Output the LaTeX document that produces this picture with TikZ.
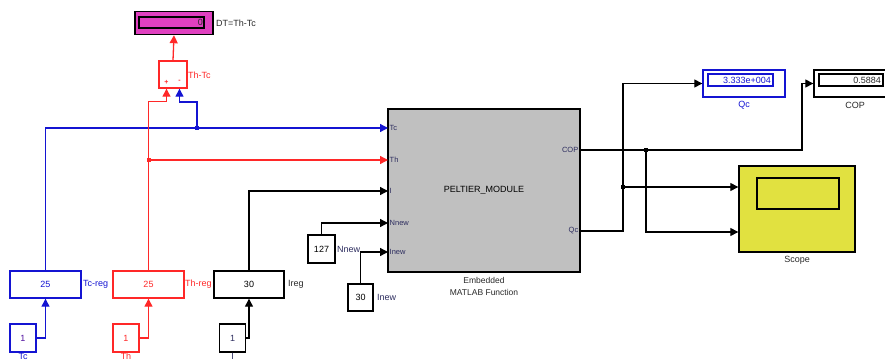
\documentclass[tikz,border=0pt]{standalone}
\usepackage{fontspec}
\setmainfont{Liberation Sans}
\usepackage{xcolor}
\usetikzlibrary{arrows.meta}

\definecolor{tcblue}{RGB}{20,20,210}
\definecolor{thred}{RGB}{255,40,40}
\definecolor{dtmag}{RGB}{224,64,192}
\definecolor{scopeyel}{RGB}{225,225,64}
\definecolor{blockgray}{RGB}{192,192,192}
\definecolor{portnavy}{RGB}{45,45,95}
\definecolor{darktext}{RGB}{40,40,40}

\begin{document}
\begin{tikzpicture}[x=1pt, y=-1pt,
		every node/.style={inner sep=0pt, font=\fontsize{9}{10}\selectfont},
		blk/.style={draw, line width=1.4pt, minimum width=71pt, minimum height=27pt},
		cst/.style={draw, line width=1.4pt, minimum width=26pt, minimum height=28pt},
		port/.style={font=\fontsize{7.5}{8}\selectfont, text=portnavy, inner sep=1.5pt},
		sig/.style={line width=1.3pt, -{Triangle[length=8pt,width=8pt]}}]
	\useasboundingbox (0,0) rectangle (885,361);
	
	% Display DT
	\node[draw, line width=1.4pt, fill=dtmag, minimum width=78pt, minimum height=23pt] (dt) at (174,23) {};
	\node[draw, line width=1.2pt, minimum width=65pt, minimum height=11pt] (dtin) at (171.5,22.5) {};
	\node[anchor=east, text=darktext] (dtv) at (203,22.5) {0};
	\node[anchor=west, text=darktext] (dtl) at (216,23) {DT=Th-Tc};
	
	% Sum Th-Tc
	\node[draw=thred, line width=1.4pt, minimum width=28pt, minimum height=27pt] (sum) at (173,74.5) {};
	\node[anchor=west, text=thred] (suml) at (188,75) {Th-Tc};
	\node[font=\fontsize{7}{7}\selectfont\bfseries, text=thred] (plus) at (166.5,82.5) {+};
	\node[font=\fontsize{7}{7}\selectfont\bfseries, text=thred] (minus) at (179.5,81.5) {-};
	\draw[sig, thred] (sum.north) -- (dt.south);
	
	% Embedded MATLAB function
	\node[draw, line width=2pt, fill=blockgray, minimum width=192pt, minimum height=163pt] (pm) at (484,190.5) {PELTIER\_MODULE};
	\node[align=center, font=\fontsize{8.5}{12}\selectfont, text=darktext] (pml) at (484,286) {Embedded\\MATLAB Function};
	\node[port, anchor=west] (pTc) at (388,128) {Tc};
	\node[port, anchor=west] (pTh) at (388,160) {Th};
	\node[port, anchor=west] (pI) at (388,191) {I};
	\node[port, anchor=west] (pN) at (388,223) {Nnew};
	\node[port, anchor=west] (pIn) at (388,252) {Inew};
	\node[port, anchor=east] (pCOP) at (580,150) {COP};
	\node[port, anchor=east] (pQc) at (580,231) {Qc};
	
	% Regulators
	\node[blk, draw=tcblue, text=tcblue] (tcreg) at (45.5,284.5) {25};
	\node[anchor=west, text=tcblue] (tcregl) at (83,284.5) {Tc-reg};
	\node[blk, draw=thred, text=thred] (threg) at (148.5,284.5) {25};
	\node[anchor=west, text=thred] (thregl) at (185,284.5) {Th-reg};
	\node[blk, minimum width=70pt] (ireg) at (249,284.5) {30};
	\node[anchor=west, text=darktext] (iregl) at (288,284.5) {Ireg};
	
	% Constants
	\node[cst, draw=tcblue, text=tcblue!75!red] (tcc) at (23,338) {1};
	\node[anchor=north, text=tcblue] (tccl) at (23,353) {Tc};
	\node[cst, draw=thred, text=thred] (thc) at (126,338) {1};
	\node[anchor=north, text=thred] (thcl) at (126,353) {Th};
	\node[cst, text=portnavy] (ic) at (232.5,338) {1};
	\node[anchor=north, text=portnavy] (icl) at (232.5,353) {I};
	\node[cst, minimum width=27pt] (nc) at (321.5,249) {127};
	\node[anchor=west, text=portnavy] (ncl) at (337,249) {Nnew};
	\node[cst, minimum width=25pt, minimum height=27pt] (inc) at (360.5,297.5) {30};
	\node[anchor=west, text=portnavy] (incl) at (377,297.5) {Inew};
	
	% Tc wires
	\coordinate (jTc) at (197,128);
	\draw[sig, tcblue] (tcc.east) -| (tcreg.south);
	\draw[sig, tcblue] (tcreg.north) |- (pTc.west);
	\draw[sig, tcblue] (jTc) -- ++(0,-26) -| (minus |- sum.south);
	\fill[tcblue] (jTc) ++(-2,-2) rectangle ++(4,4);
	
	% Th wires
	\coordinate (jTh) at (148.5,160);
	\draw[sig, thred] (thc.east) -| (threg.south);
	\draw[sig, thred] (threg.north) -- ++(0,-169) -| (plus |- sum.south);
	\draw[sig, thred] (jTh) -- (pTh.west);
	\fill[thred] (jTh) ++(-2,-2) rectangle ++(4,4);
	
	% I, Nnew, Inew wires
	\draw[sig] (ic.east) -| (ireg.south);
	\draw[sig] (ireg.north) |- (pI.west);
	\draw[sig] (nc.north) |- (pN.west);
	\draw[sig] (inc.north) |- (pIn.west);
	
	% Displays Qc, COP
	\node[draw=tcblue, line width=1.4pt, minimum width=82pt, minimum height=27pt] (qcd) at (744,83.5) {};
	\node[draw=tcblue, line width=1.2pt, minimum width=65pt, minimum height=12pt] (qcdin) at (740.5,80) {};
	\node[anchor=east, text=tcblue] (qcv) at (771,80) {3.333e+004};
	\node[text=tcblue] (qcl) at (744,105) {Qc};
	\node[draw, line width=1.4pt, minimum width=76pt, minimum height=27pt] (copd) at (852,83.5) {};
	\node[draw, line width=1.2pt, minimum width=64pt, minimum height=12pt] (copdin) at (851,80) {};
	\node[anchor=east, text=darktext] (copv) at (881,80) {0.5884};
	\node[text=darktext] (copl) at (855,105) {COP};
	
	% Scope
	\node[draw, line width=1.4pt, fill=scopeyel, minimum width=116pt, minimum height=86pt] (scope) at (797,209) {};
	\node[draw, line width=1.4pt, minimum width=82pt, minimum height=31pt] (scopescr) at (798,193.5) {};
	\node[text=darktext] (scopel) at (797,260) {Scope};
	
	% Output wires
	\coordinate (jCOP) at (646,150);
	\coordinate (jQc) at (623,187);
	\draw[sig] (pCOP.east) -- ++(222,0) |- (copd.west);
	\draw[sig] (pQc.east) -- ++(43,0) |- (qcd.west);
	\draw[sig] (jCOP) |- ([yshift=-23pt]scope.west);
	\draw[sig] (jQc) -- ([yshift=22pt]scope.west);
	\fill (jCOP) ++(-2,-2) rectangle ++(4,4);
	\fill (jQc) ++(-2,-2) rectangle ++(4,4);
\end{tikzpicture}
\end{document}
